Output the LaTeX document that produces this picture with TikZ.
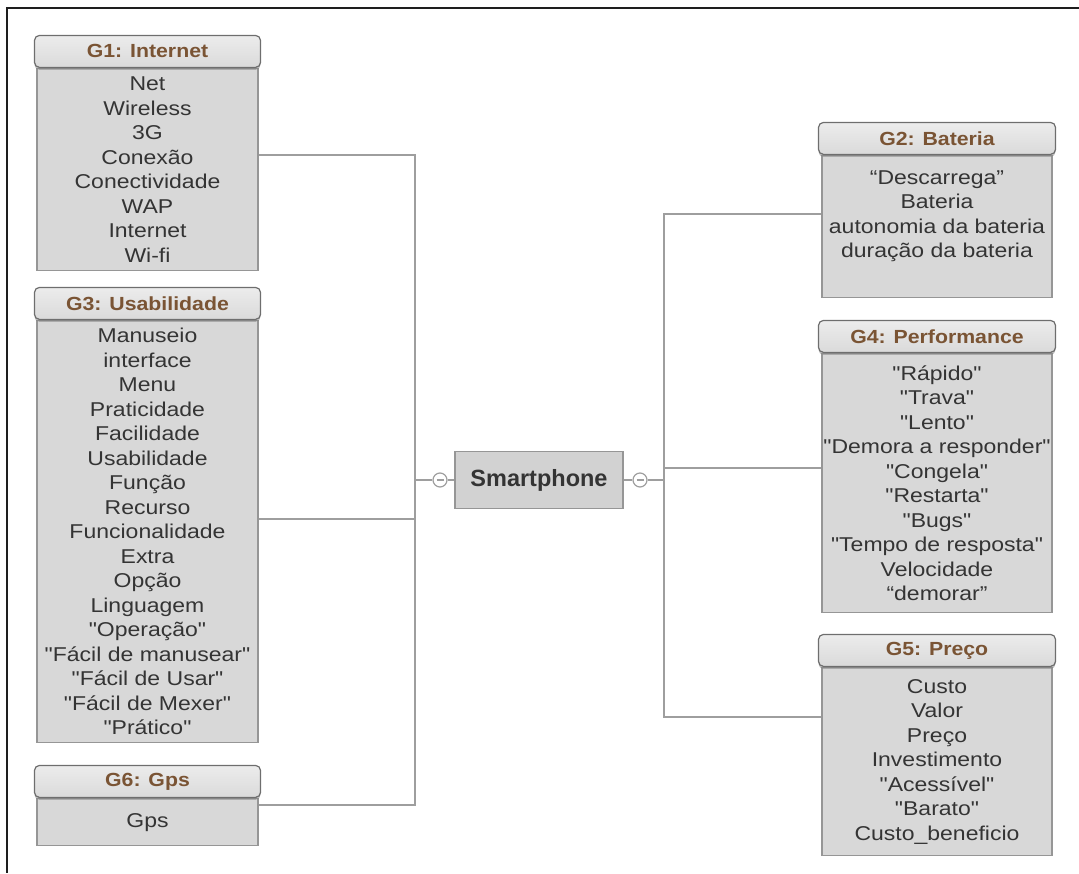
\documentclass[tikz,border=0pt]{standalone}
\usepackage{fontspec}
\setmainfont{Liberation Sans}
\newfontfamily\itemfont[FakeStretch=1.15]{Liberation Sans}
\newfontfamily\headfont[FakeStretch=1.12]{Liberation Sans}
\usetikzlibrary{positioning, shadows}
\definecolor{headtext}{RGB}{122,84,52}
\definecolor{itemtext}{RGB}{52,52,52}
\definecolor{headtop}{RGB}{236,236,236}
\definecolor{headbot}{RGB}{218,218,218}
\definecolor{headline}{RGB}{110,110,110}
\definecolor{bodyfill}{RGB}{216,216,216}
\definecolor{bodyline}{RGB}{150,150,150}
\definecolor{linkgray}{RGB}{158,158,158}
\definecolor{framecolor}{RGB}{30,30,30}

\begin{document}
\begin{tikzpicture}[x=1pt, y=-1pt,
  grpbody/.style={draw=bodyline, fill=bodyfill, line width=1.2pt,
                  align=center, inner sep=0pt, anchor=north,
                  font=\itemfont\fontsize{20}{24.5}\selectfont,
                  text=itemtext},
  lbody/.style={grpbody, minimum width=221pt},
  rbody/.style={grpbody, minimum width=230pt},
  grphead/.style={draw=headline, line width=1.2pt, rounded corners=5pt,
                  top color=headtop, bottom color=headbot,
                  minimum height=32pt, inner sep=0pt,
                  font=\headfont\bfseries\fontsize{19}{22}\selectfont,
                  text=headtext,
                  drop shadow={shadow xshift=0pt, shadow yshift=-2.5pt,
                               opacity=.5}},
  lhead/.style={grphead, minimum width=226pt},
  rhead/.style={grphead, minimum width=237pt},
  link/.style={draw=linkgray, line width=1.8pt},
  toggle/.style={circle, draw=linkgray, fill=white, line width=1.2pt,
                 minimum size=14pt, inner sep=0pt,
                 path picture={\draw[linkgray, line width=1.1pt]
                   ([xshift=-3.5pt]path picture bounding box.center) --
                   ([xshift=3.5pt]path picture bounding box.center);}},
]
\useasboundingbox (0,0) rectangle (1079,873);
\draw[framecolor, line width=1.6pt] (1079,8) -- (7,8) -- (7,873);

\node[lbody, minimum height=202pt] (g1body) at (147.5,68)
  {Net\\Wireless\\3G\\Conexão\\Conectividade\\WAP\\Internet\\Wi-fi};
\node[lhead, above=0pt of g1body] (g1head) {G1: Internet};

\node[lbody, minimum height=422pt] (g3body) at (147.5,320)
  {Manuseio\\interface\\Menu\\Praticidade\\Facilidade\\Usabilidade\\
   Função\\Recurso\\Funcionalidade\\Extra\\Opção\\Linguagem\\
   "Operação"\\"Fácil de manusear"\\"Fácil de Usar"\\"Fácil de Mexer"\\
   "Prático"};
\node[lhead, above=0pt of g3body] (g3head) {G3: Usabilidade};

\node[lbody, minimum height=47pt] (g6body) at (147.5,798) {Gps};
\node[lhead, above=0pt of g6body] (g6head) {G6: Gps};

\node[rbody, minimum height=142pt] (g2body) at (937,155)
  {“Descarrega”\\Bateria\\autonomia da bateria\\duração da bateria\\\mbox{}};
\node[rhead, above=0pt of g2body] (g2head) {G2: Bateria};

\node[rbody, minimum height=259pt] (g4body) at (937,353)
  {"Rápido"\\"Trava"\\"Lento"\\"Demora a responder"\\"Congela"\\
   "Restarta"\\"Bugs"\\"Tempo de resposta"\\Velocidade\\“demorar”};
\node[rhead, above=0pt of g4body] (g4head) {G4: Performance};

\node[rbody, minimum height=188pt] (g5body) at (937,667)
  {Custo\\Valor\\Preço\\Investimento\\"Acessível"\\"Barato"\\
   Custo\_beneficio};
\node[rhead, above=0pt of g5body] (g5head) {G5: Preço};

\node[draw=bodyline, fill=bodyfill!97!black, line width=1.2pt,
      minimum width=168pt, minimum height=57pt, inner sep=0pt,
      font=\bfseries\fontsize{23.5}{26}\selectfont, text=itemtext]
  (phone) at (539,480) {Smartphone};
\node[toggle] (lcirc) at (440,480) {};
\node[toggle] (rcirc) at (640,480) {};
\coordinate (jl) at (415,480);
\coordinate (jr) at (664,480);

\draw[link] ([yshift=15pt]g1body.east) -| (jl);
\draw[link] ([yshift=13pt]g3body.east) -| (jl);
\draw[link] ([yshift=17.5pt]g6body.east) -| (jl);
\draw[link] (jl) -- (lcirc) -- (phone);
\draw[link] (phone) -- (rcirc) -- (jr);
\draw[link] ([yshift=13pt]g2body.west) -| (jr);
\draw[link] ([yshift=15.5pt]g4body.west) -| (jr);
\draw[link] ([yshift=45pt]g5body.west) -| (jr);
\end{tikzpicture}
\end{document}
